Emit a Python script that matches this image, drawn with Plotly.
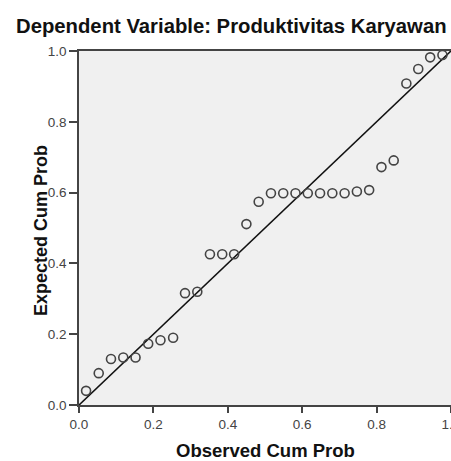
import plotly.graph_objects as go

observed = [0.019, 0.053, 0.086, 0.119, 0.152, 0.186, 0.219, 0.253, 0.285, 0.318,
            0.352, 0.385, 0.417, 0.450, 0.483, 0.516, 0.549, 0.582, 0.615, 0.648,
            0.681, 0.714, 0.747, 0.780, 0.813, 0.846, 0.880, 0.912, 0.944, 0.977]
expected = [0.040, 0.090, 0.130, 0.134, 0.134, 0.173, 0.183, 0.190, 0.316, 0.320,
            0.426, 0.426, 0.426, 0.511, 0.574, 0.598, 0.598, 0.598, 0.598, 0.598,
            0.598, 0.598, 0.603, 0.607, 0.672, 0.691, 0.908, 0.949, 0.982, 0.989]
ref_line = [0.0, 1.0]
tick_vals = [0.0, 0.2, 0.4, 0.6, 0.8, 1.0]
tick_text = ["0.0", "0.2", "0.4", "0.6", "0.8", "1.0"]

W, H = 451, 461
ML, MR, MT, MB = 79, 0, 51, 56

fig = go.Figure()
fig.add_trace(go.Scatter(x=ref_line, y=ref_line, mode="lines",
                         line=dict(color="#111111", width=1.6),
                         hoverinfo="skip", showlegend=False))
fig.add_trace(go.Scatter(x=observed, y=expected, mode="markers",
                         marker=dict(symbol="circle-open", size=9,
                                     color="#444444", line=dict(width=1.6)),
                         showlegend=False))

font_family = "Liberation Sans, Arial, sans-serif"
fig.update_layout(
    width=W, height=H,
    margin=dict(l=ML, r=MR, t=MT, b=MB, autoexpand=False),
    paper_bgcolor="white", plot_bgcolor="#f0f0f0",
    font=dict(family=font_family, color="#333333", size=13),
)

plot_w = W - ML - MR
plot_h = H - MT - MB
def px_to_paper(px, py):
    return (px - ML) / plot_w, (H - MB - py) / plot_h

tx, ty = px_to_paper(231, 26)
xx, xy = px_to_paper(265, 450)
yx, yy = px_to_paper(41, 231)
fig.add_annotation(text="<b>Dependent Variable: Produktivitas Karyawan</b>",
                   x=tx, y=ty, xref="paper", yref="paper", showarrow=False,
                   xanchor="center", yanchor="middle",
                   font=dict(size=20.3, color="#111111"))
fig.add_annotation(text="<b>Observed Cum Prob</b>",
                   x=xx, y=xy, xref="paper", yref="paper", showarrow=False,
                   xanchor="center", yanchor="middle",
                   font=dict(size=18.5, color="#111111"))
fig.add_annotation(text="<b>Expected Cum Prob</b>", textangle=-90,
                   x=yx, y=yy, xref="paper", yref="paper", showarrow=False,
                   xanchor="center", yanchor="middle",
                   font=dict(size=18, color="#111111"))

axis_common = dict(range=[0, 1], tickvals=tick_vals, ticktext=tick_text,
                   showgrid=False, zeroline=False, showline=True,
                   linecolor="#444444", linewidth=1.5, mirror=True,
                   ticks="outside", tickwidth=1.5, tickcolor="#444444",
                   ticklabeloverflow="allow", automargin=False,
                   tickfont=dict(size=13.5, color="#444444"))
fig.update_xaxes(**axis_common, ticklen=6)
fig.update_yaxes(**axis_common, ticklen=8, ticklabelstandoff=0)

fig.write_html("out.html",
               config={"displayModeBar": False},
               post_script="document.body.style.margin='0';"
                           "document.body.style.overflow='hidden';")
